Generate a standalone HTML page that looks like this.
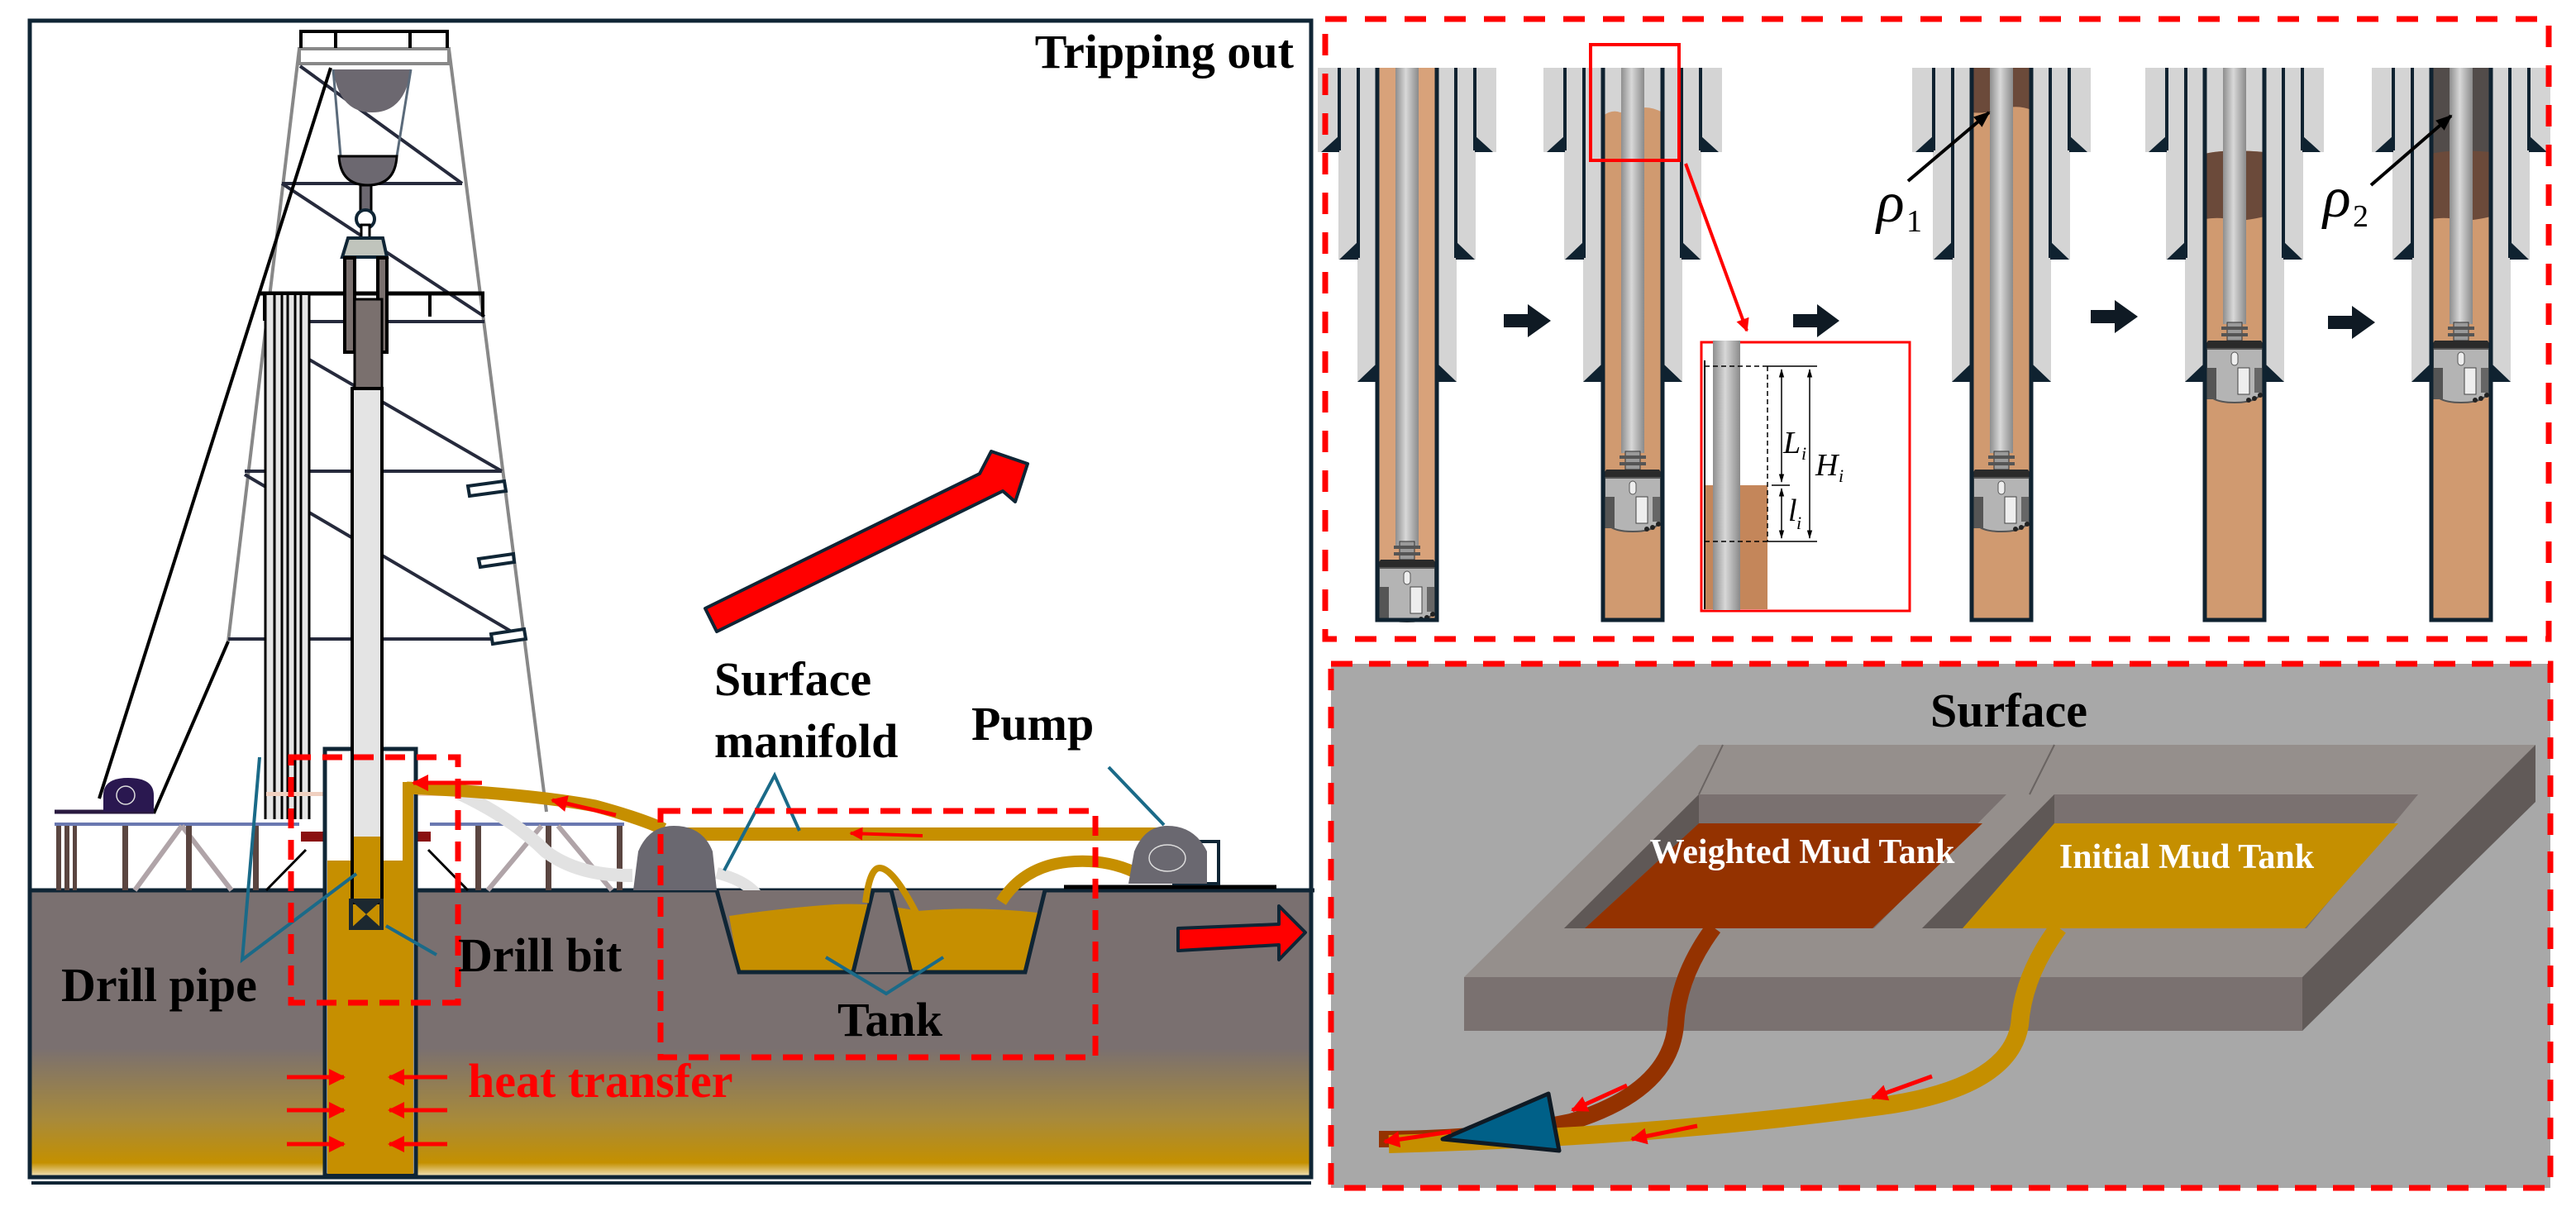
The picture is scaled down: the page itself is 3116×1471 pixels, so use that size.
<!DOCTYPE html>
<html><head><meta charset="utf-8"><style>
html,body{margin:0;padding:0;background:#fff;}
svg{display:block;}
.s{font-family:"Liberation Serif",serif;font-weight:bold;}
.n{font-family:"Liberation Serif",serif;font-weight:normal;}
</style></head><body>
<svg width="3116" height="1471" viewBox="0 0 3116 1471" xmlns="http://www.w3.org/2000/svg">
<defs>
<linearGradient id="gnd" x1="0" y1="0" x2="0" y2="1">
<stop offset="0" stop-color="#7a7070"/><stop offset="0.55" stop-color="#7a7070"/>
<stop offset="0.8" stop-color="#a88a3a"/><stop offset="0.95" stop-color="#c49000"/><stop offset="1" stop-color="#f4e8c8"/>
</linearGradient>
<linearGradient id="pipe" x1="0" y1="0" x2="1" y2="0">
<stop offset="0" stop-color="#8e8e8e"/><stop offset="0.45" stop-color="#d8d8d8"/><stop offset="1" stop-color="#8a8a8a"/>
</linearGradient>
<g id="casing">
<rect x="-108" y="82" width="216" height="102" fill="#d4d4d4"/>
<rect x="-83" y="82" width="166" height="232" fill="#d4d4d4"/>
<rect x="-60" y="82" width="120" height="380" fill="#d4d4d4"/>
<g fill="#0f2230">
<rect x="-84" y="82" width="4" height="100"/><rect x="80" y="82" width="4" height="100"/>
<polygon points="-82,164 -82,184 -104,184"/><polygon points="82,164 82,184 104,184"/>
<rect x="-61" y="82" width="4" height="230"/><rect x="57" y="82" width="4" height="230"/>
<polygon points="-59,292 -59,314 -82,314"/><polygon points="59,292 59,314 82,314"/>
<polygon points="-37,440 -37,462 -60,462"/><polygon points="37,440 37,462 60,462"/>
</g>
</g>
<g id="bore"><path d="M-36,82 V750 H36 V82" fill="none" stroke="#0f2230" stroke-width="5"/></g>
<g id="bit">
<rect x="-9" y="0" width="18" height="22" fill="#9a9a9a" stroke="#333" stroke-width="1"/>
<rect x="-16" y="5" width="32" height="4" fill="#555"/><rect x="-16" y="13" width="32" height="4" fill="#555"/>
<polygon points="-32,22 32,22 38,32 -38,32" fill="#2a2a2a"/>
<path d="M-34,32 H34 V78 Q34,97 0,97 Q-34,97 -34,78 Z" fill="#b4b4b4" stroke="#555" stroke-width="2"/>
<rect x="-4" y="36" width="8" height="16" rx="4" fill="#eee" stroke="#555"/>
<rect x="-34" y="55" width="12" height="38" fill="#555"/><rect x="4" y="55" width="14" height="32" fill="#eee" stroke="#444"/>
<rect x="24" y="55" width="9" height="30" fill="#666"/>
<circle cx="24" cy="92" r="3" fill="#222"/><circle cx="31" cy="88" r="3" fill="#222"/><circle cx="17" cy="94" r="3" fill="#222"/>
</g>
<marker id="ra" viewBox="0 0 10 10" refX="9" refY="5" markerWidth="4" markerHeight="4" orient="auto"><path d="M0,0 L10,5 L0,10 z" fill="#ff0000"/></marker>
<marker id="ka" viewBox="0 0 10 10" refX="9" refY="5" markerWidth="5" markerHeight="5" orient="auto"><path d="M0,1 L10,5 L0,9 z" fill="#000"/></marker>
<marker id="da" viewBox="0 0 10 10" refX="9" refY="5" markerWidth="7" markerHeight="7" orient="auto"><path d="M0,2 L10,5 L0,8 z" fill="#000"/></marker>
<marker id="db" viewBox="0 0 10 10" refX="1" refY="5" markerWidth="7" markerHeight="7" orient="auto"><path d="M10,2 L0,5 L10,8 z" fill="#000"/></marker>
</defs>

<rect x="36" y="1077" width="1550" height="347" fill="url(#gnd)"/>
<rect x="36" y="25" width="1550" height="1399" fill="none" stroke="#0f2535" stroke-width="5"/>
<line x1="38" y1="1431" x2="1586" y2="1431" stroke="#0f2535" stroke-width="4"/>
<line x1="36" y1="1077" x2="1586" y2="1077" stroke="#0f2535" stroke-width="5"/>
<text class="s" x="1565" y="82" font-size="58" text-anchor="end" style="font-family:'Liberation Serif',serif;font-weight:bold">Tripping out</text>

<g stroke-linecap="butt">
<line x1="362" y1="59" x2="276" y2="776" stroke="#888" stroke-width="4"/>
<line x1="543" y1="59" x2="661" y2="982" stroke="#888" stroke-width="4"/>
<rect x="362" y="59" width="181" height="18" fill="none" stroke="#888" stroke-width="4"/>
<line x1="362" y1="38" x2="543" y2="38" stroke="#000" stroke-width="4"/>
<line x1="364" y1="38" x2="364" y2="58" stroke="#000" stroke-width="4"/><line x1="406" y1="38" x2="406" y2="58" stroke="#000" stroke-width="4"/>
<line x1="496" y1="38" x2="496" y2="58" stroke="#000" stroke-width="4"/><line x1="541" y1="38" x2="541" y2="58" stroke="#000" stroke-width="4"/>
<g stroke="#262a3c" stroke-width="4">
<line x1="341" y1="222" x2="559" y2="222"/>
<line x1="320" y1="389" x2="586" y2="389"/>
<line x1="296" y1="570" x2="607" y2="570"/>
<line x1="276" y1="773" x2="633" y2="773"/>
<line x1="363" y1="80" x2="559" y2="222"/>
<line x1="341" y1="222" x2="586" y2="383"/>
<line x1="324" y1="406" x2="607" y2="570"/>
<line x1="296" y1="574" x2="617" y2="763"/>
</g>
<line x1="314" y1="355" x2="586" y2="355" stroke="#000" stroke-width="5"/>
<line x1="320" y1="355" x2="320" y2="388" stroke="#000" stroke-width="4"/>
<line x1="520" y1="355" x2="520" y2="383" stroke="#000" stroke-width="4"/>
<line x1="584" y1="355" x2="584" y2="383" stroke="#000" stroke-width="4"/>
<g fill="#fff" stroke="#0f2535" stroke-width="4">
<polygon points="566,588 610,582 612,594 568,600"/>
<polygon points="579,676 621,670 622,680 581,686"/>
<polygon points="594,767 634,761 636,773 596,779"/>
</g>
<rect x="320" y="357" width="55" height="634" fill="#e6e6e6"/>
<g stroke="#000" stroke-width="3">
<line x1="321" y1="357" x2="321" y2="991"/><line x1="332" y1="357" x2="332" y2="991"/><line x1="341" y1="357" x2="341" y2="991"/>
<line x1="348" y1="357" x2="348" y2="991"/><line x1="357" y1="357" x2="357" y2="991"/><line x1="364" y1="357" x2="364" y2="991"/><line x1="374" y1="357" x2="374" y2="991"/>
</g>
<line x1="400" y1="82" x2="120" y2="966" stroke="#000" stroke-width="4"/>
<line x1="276" y1="776" x2="186" y2="984" stroke="#000" stroke-width="4"/>
</g>
<path d="M403,84 H497 Q490,136 450,136 Q410,136 403,84 Z" fill="#6c6870"/>
<line x1="403" y1="84" x2="412" y2="189" stroke="#5a6a7a" stroke-width="3"/>
<line x1="497" y1="84" x2="480" y2="189" stroke="#5a6a7a" stroke-width="3"/>
<path d="M410,189 H480 Q478,224 445,224 Q412,224 410,189 Z" fill="#6c6870" stroke="#000" stroke-width="3"/>
<rect x="436" y="224" width="13" height="31" fill="#6c6870" stroke="#000" stroke-width="3"/>
<circle cx="442" cy="265" r="11" fill="#fff" stroke="#0f2535" stroke-width="4"/>
<rect x="437" y="272" width="10" height="16" fill="#fff" stroke="#000" stroke-width="3"/>
<polygon points="421,288 463,288 468,311 414,311" fill="#c0c4bc" stroke="#0f2535" stroke-width="4"/>
<rect x="417" y="312" width="12" height="114" fill="#7a706e" stroke="#000" stroke-width="4"/>
<rect x="457" y="312" width="11" height="114" fill="#7a706e" stroke="#000" stroke-width="4"/>
<rect x="429" y="362" width="33" height="112" fill="#7a706e" stroke="#000" stroke-width="3"/>

<line x1="66" y1="982" x2="186" y2="982" stroke="#2a1a40" stroke-width="5"/>
<line x1="66" y1="997" x2="362" y2="997" stroke="#6a78b0" stroke-width="4"/>
<line x1="520" y1="997" x2="755" y2="997" stroke="#6a78b0" stroke-width="4"/>
<path d="M125,982 V962 Q125,941 155,941 Q186,941 186,962 V982 Z" fill="#2a1850"/>
<circle cx="152" cy="962" r="11" fill="none" stroke="#ddd" stroke-width="1.5"/>
<g stroke="#b0a4a8" stroke-width="6">
<line x1="163" y1="1077" x2="220" y2="999"/><line x1="220" y1="999" x2="280" y2="1077"/>
<line x1="590" y1="1077" x2="655" y2="999"/><line x1="675" y1="999" x2="740" y2="1077"/>
</g>
<g fill="#5a4540">
<rect x="68" y="999" width="6" height="78"/><rect x="78" y="999" width="6" height="78"/><rect x="88" y="999" width="5" height="78"/>
<rect x="148" y="999" width="7" height="78"/><rect x="225" y="999" width="7" height="78"/><rect x="306" y="999" width="7" height="78"/>
<rect x="575" y="999" width="7" height="78"/><rect x="660" y="999" width="7" height="78"/><rect x="746" y="999" width="7" height="78"/>
</g>
<rect x="364" y="1006" width="30" height="12" fill="#8a1010"/><rect x="503" y="1006" width="18" height="12" fill="#8a1010"/>
<line x1="322" y1="1077" x2="370" y2="1028" stroke="#000" stroke-width="3"/>
<line x1="518" y1="1028" x2="566" y2="1077" stroke="#000" stroke-width="3"/>
<rect x="322" y="958" width="70" height="5" fill="#f0d0c0"/><rect x="505" y="958" width="40" height="5" fill="#f0d0c0"/>
<path d="M556,960 Q620,990 660,1030 Q700,1060 765,1059" fill="none" stroke="#e2e2e2" stroke-width="16"/>
<path d="M867,1056 Q920,1070 923,1102" fill="none" stroke="#e2e2e2" stroke-width="14"/>

<rect x="393" y="906" width="110" height="516" fill="#fff" stroke="#0f2535" stroke-width="5"/>
<rect x="396" y="1041" width="104" height="379" fill="#c68f00"/>
<rect x="487" y="946" width="13" height="100" fill="#c68f00"/>
<rect x="426" y="470" width="36" height="622" fill="#e4e4e4" stroke="#000" stroke-width="4"/>
<rect x="428" y="1012" width="32" height="78" fill="#c68f00"/>
<polygon points="422,1087 464,1087 443,1106" fill="#1c2830"/>
<polygon points="422,1125 464,1125 443,1106" fill="#1c2830"/>
<rect x="422" y="1087" width="5" height="38" fill="#1c2830"/><rect x="459" y="1087" width="5" height="38" fill="#1c2830"/>

<path d="M492,953 Q640,960 720,975 Q775,990 803,1003" fill="none" stroke="#c68f00" stroke-width="15"/>
<path d="M795,1009 H1400" fill="none" stroke="#c68f00" stroke-width="16"/>
<line x1="583" y1="947" x2="500" y2="947" stroke="#ff0000" stroke-width="5" marker-end="url(#ra)"/>
<line x1="745" y1="986" x2="668" y2="968" stroke="#ff0000" stroke-width="5" marker-end="url(#ra)"/>
<line x1="1116" y1="1011" x2="1029" y2="1008" stroke="#ff0000" stroke-width="4" marker-end="url(#ra)"/>

<path d="M766,1077 L772,1030 Q785,999 815,999 Q850,999 862,1030 L867,1077 Z" fill="#6a6870"/>
<path d="M867,1077 L894,1176 H1240 L1264,1077" fill="#7a7070"/>
<path d="M882,1108 Q950,1098 1010,1094 Q1060,1092 1110,1102 Q1180,1096 1255,1104 L1240,1176 H894 Z" fill="#c68f00"/>
<path d="M867,1077 L894,1176 H1240 L1264,1077 H1590" fill="none" stroke="#0f2535" stroke-width="5"/>
<path d="M1032,1176 L1056,1077 H1078 L1102,1176" fill="#7a7070" stroke="#0f2535" stroke-width="5"/>
<path d="M1047,1092 Q1052,1050 1064,1050 Q1080,1050 1108,1104" fill="none" stroke="#c68f00" stroke-width="8"/>
<path d="M1211,1091 Q1240,1045 1300,1042 Q1340,1040 1372,1055" fill="none" stroke="#c68f00" stroke-width="14"/>
<line x1="1287" y1="1073" x2="1544" y2="1073" stroke="#000" stroke-width="5"/>
<rect x="1420" y="1018" width="54" height="51" fill="none" stroke="#0f2535" stroke-width="4"/>
<path d="M1365,1069 L1372,1030 Q1385,999 1412,999 Q1445,999 1460,1030 V1069 Z" fill="#6a6870"/>
<ellipse cx="1412" cy="1038" rx="22" ry="16" fill="none" stroke="#ddd" stroke-width="1.5"/>

<g stroke="#1a6a88" stroke-width="4" fill="none">
<polyline points="314,916 293,1161 431,1057"/>
<polyline points="467,1120 528,1155"/>
<polyline points="876,1053 937,938 967,1005"/>
<polyline points="1341,928 1408,998"/>
<polyline points="999,1158 1072,1202 1141,1158"/>
</g>

<g fill="none" stroke="#ff0000" stroke-width="7" stroke-dasharray="24 14">
<rect x="352" y="916" width="202" height="297"/>
<rect x="799" y="981" width="526" height="298"/>
</g>

<g stroke="#ff0000" stroke-width="5">
<line x1="347" y1="1303" x2="416" y2="1303" marker-end="url(#ra)"/>
<line x1="347" y1="1343" x2="416" y2="1343" marker-end="url(#ra)"/>
<line x1="347" y1="1384" x2="416" y2="1384" marker-end="url(#ra)"/>
<line x1="541" y1="1303" x2="471" y2="1303" marker-end="url(#ra)"/>
<line x1="541" y1="1343" x2="471" y2="1343" marker-end="url(#ra)"/>
<line x1="541" y1="1384" x2="471" y2="1384" marker-end="url(#ra)"/>
</g>

<polygon points="853,736 1185,573 1199,546 1243,561 1228,607 1213,594 867,764" fill="#ff0000" stroke="#0f2535" stroke-width="4" stroke-linejoin="round"/>
<polygon points="1425,1123 1547,1118 1547,1096 1579,1128 1547,1161 1547,1143 1425,1150" fill="#ff0000" stroke="#0f2535" stroke-width="4" stroke-linejoin="round"/>

<text class="s" x="74" y="1211" font-size="58" style="font-family:'Liberation Serif',serif;font-weight:bold">Drill pipe</text>
<text class="s" x="554" y="1175" font-size="58" style="font-family:'Liberation Serif',serif;font-weight:bold">Drill bit</text>
<text class="s" x="566" y="1327" font-size="58" fill="#ff0000" style="font-family:'Liberation Serif',serif;font-weight:bold">heat transfer</text>
<text class="s" x="864" y="841" font-size="58" style="font-family:'Liberation Serif',serif;font-weight:bold">Surface</text>
<text class="s" x="864" y="916" font-size="58" style="font-family:'Liberation Serif',serif;font-weight:bold">manifold</text>
<text class="s" x="1175" y="895" font-size="58" style="font-family:'Liberation Serif',serif;font-weight:bold">Pump</text>
<text class="s" x="1013" y="1253" font-size="58" style="font-family:'Liberation Serif',serif;font-weight:bold">Tank</text>

<g transform="translate(1702,0)">
<use href="#casing"/>
<rect x="-36" y="82" width="72" height="668" fill="#d8a27a"/>
<rect x="-14" y="82" width="28" height="578" fill="url(#pipe)"/>
<use href="#bit" transform="translate(0,655)"/>
<use href="#bore"/>
</g>
<g transform="translate(1975,0)">
<use href="#casing"/>
<path d="M-36,140 Q-25,132 -15,136 L15,130 Q25,130 36,136 V750 H-36 Z" fill="#d09a70"/>
<rect x="-14" y="82" width="28" height="466" fill="url(#pipe)"/>
<use href="#bit" transform="translate(0,546)"/>
<use href="#bore"/>
</g>
<g transform="translate(2421,0)">
<use href="#casing"/>
<rect x="-36" y="82" width="72" height="668" fill="#d09a70"/>
<path d="M-36,82 H36 V133 Q20,126 0,132 Q-20,138 -36,136 Z" fill="#6b4a3a"/>
<rect x="-14" y="82" width="28" height="466" fill="url(#pipe)"/>
<use href="#bit" transform="translate(0,546)"/>
<use href="#bore"/>
</g>
<g transform="translate(2703,0)">
<use href="#casing"/>
<path d="M-36,186 Q-10,180 36,184 V750 H-36 Z" fill="#d09a70"/>
<path d="M-36,186 Q-10,180 36,184 V262 Q10,268 0,266 Q-20,262 -36,265 Z" fill="#6b4a3a"/>
<rect x="-14" y="82" width="28" height="310" fill="url(#pipe)"/>
<use href="#bit" transform="translate(0,390)"/>
<use href="#bore"/>
</g>
<g transform="translate(2977,0)">
<use href="#casing"/>
<rect x="-36" y="82" width="72" height="668" fill="#d09a70"/>
<rect x="-36" y="82" width="72" height="104" fill="#524c4a"/>
<path d="M-36,186 Q-10,180 36,184 V262 Q10,268 0,266 Q-20,262 -36,265 Z" fill="#6b4a3a"/>
<rect x="-14" y="82" width="28" height="310" fill="url(#pipe)"/>
<use href="#bit" transform="translate(0,390)"/>
<use href="#bore"/>
</g>
<rect x="3086" y="60" width="30" height="720" fill="#fff"/>

<g fill="#0f1a24">
<polygon points="1819,380 1848,380 1848,368 1876,388 1848,408 1848,396 1819,396"/>
<polygon points="2169,380 2198,380 2198,368 2225,388 2198,408 2198,396 2169,396"/>
<polygon points="2529,375 2558,375 2558,363 2586,383 2558,403 2558,391 2529,391"/>
<polygon points="2816,382 2845,382 2845,370 2873,390 2845,410 2845,398 2816,398"/>
</g>

<rect x="1924" y="54" width="107" height="140" fill="none" stroke="#ff0000" stroke-width="4"/>
<line x1="2039" y1="198" x2="2113" y2="400" stroke="#ff0000" stroke-width="4" marker-end="url(#ra)"/>
<rect x="2058" y="414" width="252" height="325" fill="#fff" stroke="#ff0000" stroke-width="3"/>
<rect x="2062" y="587" width="76" height="150" fill="#c4865a"/>
<rect x="2072" y="412" width="33" height="326" fill="url(#pipe)"/>
<line x1="2062" y1="436" x2="2062" y2="737" stroke="#000" stroke-width="2"/>
<g stroke="#000" stroke-width="1.5" stroke-dasharray="6 4" fill="none">
<line x1="2062" y1="443" x2="2138" y2="443"/><line x1="2062" y1="655" x2="2138" y2="655"/><line x1="2138" y1="443" x2="2138" y2="655"/>
</g>
<g stroke="#000" stroke-width="1.5">
<line x1="2138" y1="443" x2="2198" y2="443"/><line x1="2138" y1="655" x2="2198" y2="655"/><line x1="2143" y1="587" x2="2165" y2="587"/>
<line x1="2155" y1="447" x2="2155" y2="583" marker-start="url(#db)" marker-end="url(#da)"/>
<line x1="2155" y1="591" x2="2155" y2="651" marker-start="url(#db)" marker-end="url(#da)"/>
<line x1="2189" y1="447" x2="2189" y2="651" marker-start="url(#db)" marker-end="url(#da)"/>
</g>
<text class="n" x="2157" y="548" font-size="38" style="font-family:'Liberation Serif',serif;font-style:italic">L</text><text class="n" x="2179" y="556" font-size="22" style="font-family:'Liberation Serif',serif;font-style:italic">i</text>
<text class="n" x="2196" y="575" font-size="38" style="font-family:'Liberation Serif',serif;font-style:italic">H</text><text class="n" x="2224" y="583" font-size="22" style="font-family:'Liberation Serif',serif;font-style:italic">i</text>
<text class="n" x="2163" y="630" font-size="38" style="font-family:'Liberation Serif',serif;font-style:italic">l</text><text class="n" x="2173" y="640" font-size="22" style="font-family:'Liberation Serif',serif;font-style:italic">i</text>

<line x1="2308" y1="219" x2="2406" y2="136" stroke="#000" stroke-width="4" marker-end="url(#ka)"/>
<text class="n" x="2270" y="268" font-size="70" style="font-family:'Liberation Serif',serif;font-style:italic">ρ</text><text class="n" x="2306" y="280" font-size="38" style="font-family:'Liberation Serif',serif">1</text>
<line x1="2868" y1="224" x2="2965" y2="140" stroke="#000" stroke-width="4" marker-end="url(#ka)"/>
<text class="n" x="2810" y="262" font-size="70" style="font-family:'Liberation Serif',serif;font-style:italic">ρ</text><text class="n" x="2846" y="274" font-size="38" style="font-family:'Liberation Serif',serif">2</text>

<rect x="1603" y="23" width="1480" height="750" fill="none" stroke="#ff0000" stroke-width="7" stroke-dasharray="26 22"/>

<rect x="1610" y="803" width="1475" height="634" fill="#a8a8a8"/>
<text class="s" x="2430" y="879" font-size="58" text-anchor="middle" style="font-family:'Liberation Serif',serif;font-weight:bold">Surface</text>
<path d="M2055,901 H3067 L2785,1182 H1771 Z" fill="#958f8c"/>
<path d="M3067,901 V970 L2785,1247 V1182 Z" fill="#615a58"/>
<rect x="1771" y="1182" width="1014" height="65" fill="#7a7170"/>
<line x1="2084" y1="901" x2="2055" y2="961" stroke="#6a6462" stroke-width="2"/>
<line x1="2485" y1="901" x2="2455" y2="961" stroke="#6a6462" stroke-width="2"/>
<path d="M2055,961 H2427 L2267,1123 H1892 Z" fill="#7a7170"/>
<path d="M2055,961 V996 L1917,1123 H1892 Z" fill="#5f5856"/>
<path d="M2055,996 H2398 L2265,1123 H1917 Z" fill="#943200"/>
<path d="M2485,961 H2925 L2790,1123 H2325 Z" fill="#7a7170"/>
<path d="M2485,961 V996 L2374,1123 H2325 Z" fill="#5f5856"/>
<path d="M2485,996 H2901 L2788,1123 H2374 Z" fill="#c58f00"/>
<text class="s" x="2180" y="1044" font-size="42" fill="#fff" text-anchor="middle" style="font-family:'Liberation Serif',serif;font-weight:bold">Weighted Mud Tank</text>
<text class="s" x="2645" y="1050" font-size="42" fill="#fff" text-anchor="middle" style="font-family:'Liberation Serif',serif;font-weight:bold">Initial Mud Tank</text>
<path d="M2073,1122 Q2030,1180 2027,1240 Q2020,1320 1900,1357 Q1800,1378 1668,1378" fill="none" stroke="#943200" stroke-width="20"/>
<path d="M2490,1122 Q2447,1180 2443,1240 Q2430,1320 2260,1340 Q2000,1375 1680,1384" fill="none" stroke="#c58f00" stroke-width="22"/>
<polygon points="1873,1323 1886,1392 1745,1378" fill="#006088" stroke="#0f1a24" stroke-width="5" stroke-linejoin="round"/>
<g stroke="#ff0000" stroke-width="5">
<line x1="1968" y1="1313" x2="1902" y2="1343" marker-end="url(#ra)"/>
<line x1="2337" y1="1302" x2="2265" y2="1328" marker-end="url(#ra)"/>
<line x1="2053" y1="1362" x2="1974" y2="1378" marker-end="url(#ra)"/>
<line x1="1755" y1="1369" x2="1675" y2="1381" marker-end="url(#ra)"/>
</g>
<rect x="1610" y="803" width="1475" height="634" fill="none" stroke="#ff0000" stroke-width="7" stroke-dasharray="26 20"/>
</svg>
</body></html>
